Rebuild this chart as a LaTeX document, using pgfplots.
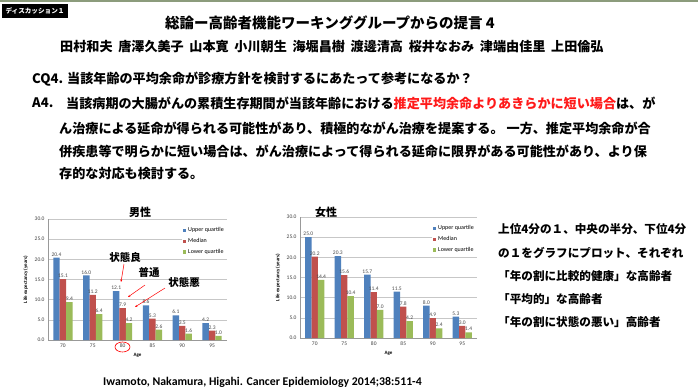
\documentclass[border=0pt]{standalone}
\usepackage{fontspec}
\setmainfont{Noto Sans CJK JP}
\newfontfamily\calibri{Carlito}
\usepackage{pgfplots}
\pgfplotsset{compat=1.18}
\usetikzlibrary{arrows.meta}
\definecolor{cblue}{HTML}{4F81BD}
\definecolor{cred}{HTML}{C0504D}
\definecolor{cgreen}{HTML}{9BBB59}
\definecolor{topline}{HTML}{8C9C7C}
\definecolor{hired}{HTML}{FF1A1A}
\newcommand{\fs}[1]{\fontsize{#1}{#1}\selectfont}
\pgfplotsset{
 lifebar/.style={
  scale only axis, height=121pt,
  ybar=0pt, bar width=6.4pt,
  ymin=0, ymax=30, ytick={0,5,10,15,20,25,30},
  xmin=-0.5, xmax=5.5, xtick={0,1,2,3,4,5},
  xticklabels={70,75,80,85,90,95},
  /pgf/number format/fixed, /pgf/number format/fixed zerofill,
  /pgf/number format/precision=1, /pgf/number format/assume math mode=true,
  ymajorgrids, grid style={draw=black!22, line width=0.5pt},
  axis x line*=bottom, axis y line*=left,
  axis line style={draw=black!40, line width=0.5pt},
  major tick length=0pt,
  tick label style={font=\calibri\fs{5.5}, text=black!75},
  ylabel={Life expectancy (years)}, xlabel={Age},
  label style={font=\calibri\bfseries\fs{5}},
  ylabel style={at={(axis description cs:-0.125,0.5)}, anchor=center},
  xlabel style={at={(axis description cs:0.5,-0.125)}, anchor=center},
  nodes near coords,
  every node near coord/.append style={font=\calibri\fs{5.5}, text=black!70, inner sep=1.2pt},
  legend style={at={(1,0.955)}, anchor=north east, draw=none, fill=white,
    font=\calibri\fs{6}, row sep=1.2pt, inner sep=1pt},
  legend cell align=left,
  legend image code/.code={\fill[##1] (0pt,-1.6pt) rectangle (3.4pt,1.8pt);},
 }
}
\begin{document}
\begin{tikzpicture}
\path[fill=white, use as bounding box] (0pt,0pt) rectangle (698pt,-391pt);
\draw[topline, line width=1.6pt] (0pt,-0.8pt) -- (698pt,-0.8pt);
% discussion box
\fill[black] (2pt,-4pt) rectangle (68pt,-18pt);
\node[anchor=center, inner sep=0, text=white, font=\bfseries\fs{6.6}] at (35pt,-11pt) {ディスカッション１};
% title
\node[anchor=center, inner sep=0, font=\bfseries\fs{14.5}] at (330pt,-23pt) {総論ー高齢者機能ワーキンググループからの提言 4};
\node[anchor=west, inner sep=0, font=\bfseries\fs{13.1}] at (60pt,-47pt) {田村和夫\hspace{5.7pt}唐澤久美子\hspace{5.7pt}山本寛\hspace{5.7pt}小川朝生\hspace{5.7pt}海堀昌樹\hspace{5.7pt}渡邊清高\hspace{5.7pt}桜井なおみ\hspace{5.7pt}津端由佳里\hspace{5.7pt}上田倫弘};
% CQ text
\node[anchor=west, inner sep=0, font=\bfseries\fs{13.1}] at (32pt,-79pt) {CQ4. 当該年齢の平均余命が診療方針を検討するにあたって参考になるか？};
\node[anchor=west, inner sep=0, font=\bfseries\fs{13.1}] at (32pt,-103pt) {A4.};
\node[anchor=west, inner sep=0, font=\bfseries\fs{13.1}] at (66pt,-103pt) {当該病期の大腸がんの累積生存期間が当該年齢における\textcolor{hired}{推定平均余命よりあきらかに短い場合}は、が};
\node[anchor=west, inner sep=0, font=\bfseries\fs{13.1}] at (59pt,-128pt) {ん治療による延命が得られる可能性があり、積極的ながん治療を提案する。 一方、推定平均余命が合};
\node[anchor=west, inner sep=0, font=\bfseries\fs{13.1}] at (59pt,-151pt) {併疾患等で明らかに短い場合は、がん治療によって得られる延命に限界がある可能性があり、より保};
\node[anchor=west, inner sep=0, font=\bfseries\fs{13.1}] at (59pt,-174pt) {存的な対応も検討する。};
% right text
\begin{scope}[every node/.style={anchor=west, inner sep=0, font=\bfseries\fs{11.6}}]
\node at (498pt,-229pt) {上位4分の１、中央の半分、下位4分};
\node at (498pt,-253pt) {の１をグラフにプロット、それぞれ};
\node at (498pt,-276pt) {「年の割に比較的健康」な高齢者};
\node at (498pt,-299pt) {「平均的」な高齢者};
\node at (498pt,-322pt) {「年の割に状態の悪い」高齢者};
\end{scope}
% citation
\node[anchor=west, inner sep=0, font=\calibri\bfseries\fs{11.8}] at (103pt,-382pt) {Iwamoto, Nakamura, Higahi. Cancer Epidemiology 2014;38:511-4};
% chart titles
\node[font=\bfseries\fs{11}, inner sep=0] at (140pt,-212pt) {男性};
\node[font=\bfseries\fs{11}, inner sep=0] at (326pt,-212pt) {女性};
% male chart
\begin{axis}[lifebar, width=179pt, at={(48pt,-340pt)}, anchor=south west]
\addplot[fill=cblue, draw=none] coordinates {(0,20.4) (1,16.0) (2,12.1) (3,8.6) (4,6.1) (5,4.2)};
\addplot[fill=cred, draw=none] coordinates {(0,15.1) (1,11.2) (2,7.9) (3,5.3) (4,3.5) (5,2.3)};
\addplot[fill=cgreen, draw=none] coordinates {(0,9.4) (1,6.4) (2,4.2) (3,2.6) (4,1.6) (5,1.0)};
\legend{Upper quartile, Median, Lower quartile}
\end{axis}
% female chart
\begin{axis}[lifebar, width=177pt, at={(300pt,-338pt)}, anchor=south west]
\addplot[fill=cblue, draw=none] coordinates {(0,25.0) (1,20.3) (2,15.7) (3,11.5) (4,8.0) (5,5.3)};
\addplot[fill=cred, draw=none] coordinates {(0,20.2) (1,15.6) (2,11.4) (3,7.8) (4,4.9) (5,3.0)};
\addplot[fill=cgreen, draw=none] coordinates {(0,14.4) (1,10.4) (2,7.0) (3,4.2) (4,2.4) (5,1.4)};
\legend{Upper quartile, Median, Lower quartile}
\end{axis}
% annotations
\begin{scope}[font=\bfseries\fs{10.5}, every node/.style={inner sep=0}]
\node at (125pt,-257pt) {状態良};
\node at (149pt,-272pt) {普通};
\node at (184pt,-282pt) {状態悪};
\end{scope}
\begin{scope}[draw=red, line width=0.5pt, -{Stealth[length=2.5pt,width=2pt]}]
\draw (124pt,-264pt) -- (121pt,-282pt);
\draw (145pt,-285pt) -- (128pt,-297pt);
\draw (165pt,-288pt) -- (135pt,-307pt);
\end{scope}
\draw[red, line width=0.6pt] (122.5pt,-347pt) ellipse (7.5pt and 5pt);
\end{tikzpicture}
\end{document}
